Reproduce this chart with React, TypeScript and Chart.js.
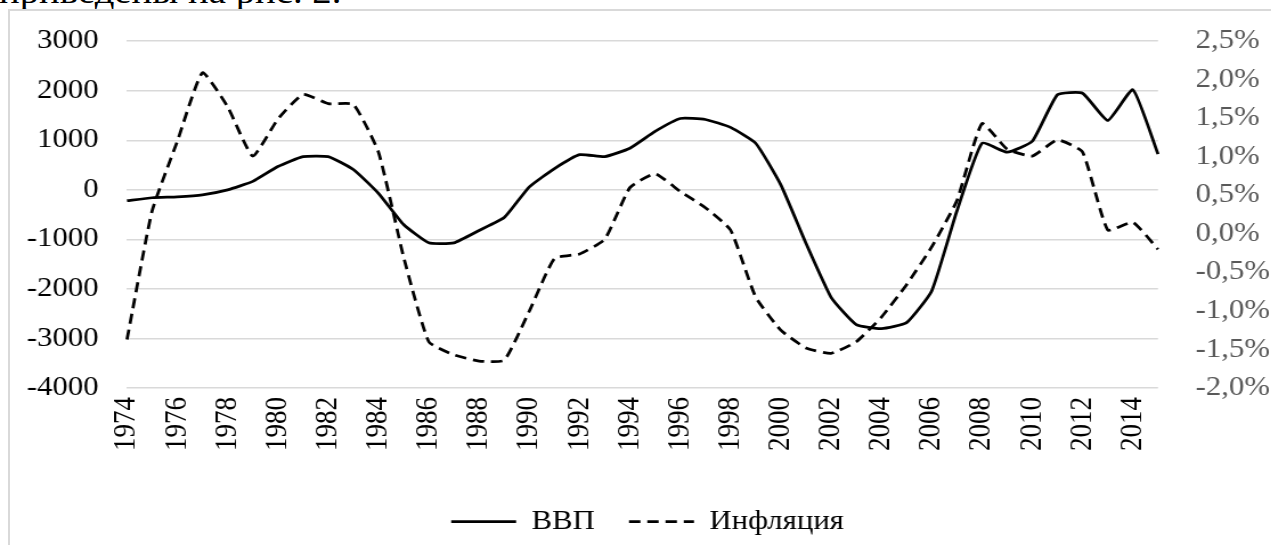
import { useEffect, useRef } from 'react';
import { Chart, registerables } from 'chart.js';

Chart.register(...registerables);

const years = [
  '1974', '1975', '1976', '1977', '1978', '1979', '1980', '1981', '1982', '1983',
  '1984', '1985', '1986', '1987', '1988', '1989', '1990', '1991', '1992', '1993',
  '1994', '1995', '1996', '1997', '1998', '1999', '2000', '2001', '2002', '2003',
  '2004', '2005', '2006', '2007', '2008', '2009', '2010', '2011', '2012', '2013',
  '2014', '2015',
];

const gdp = [
  -220, -160, -140, -100, 0, 170, 470, 670, 670, 410,
  -70, -700, -1070, -1070, -820, -560, 60, 430, 710, 670,
  840, 1180, 1440, 1420, 1260, 940, 100, -1080, -2170, -2720,
  -2800, -2680, -2040, -430, 940, 760, 980, 1920, 1950, 1400,
  2020, 720,
];

const inflation = [
  -1.37, 0.3, 1.2, 2.09, 1.65, 1.01, 1.49, 1.81, 1.69, 1.68,
  1.06, -0.3, -1.4, -1.57, -1.65, -1.64, -1.0, -0.32, -0.26, -0.07,
  0.6, 0.78, 0.55, 0.34, 0.05, -0.82, -1.25, -1.48, -1.55, -1.4,
  -1.08, -0.66, -0.17, 0.43, 1.43, 1.1, 1.01, 1.22, 1.06, 0.05,
  0.15, -0.2,
];

const leftTicks = { min: -4000, max: 3000, step: 1000 };
const rightTicks = { min: -2, max: 2.5, step: 0.5 };

const SX = 1.14;
const W = 1115;
const H = 545;
const FONT = { family: "'Liberation Serif', 'Times New Roman', serif", size: 27 };
const DASH = [10, 6];

export default function App() {
  const ref = useRef<HTMLCanvasElement>(null);

  useEffect(() => {
    if (!ref.current) return;
    const chart = new Chart(ref.current, {
      type: 'line',
      data: {
        labels: years,
        datasets: [
          {
            label: 'ВВП',
            data: gdp,
            yAxisID: 'y',
            borderColor: '#000',
            backgroundColor: '#000',
            borderWidth: 2.75,
            pointRadius: 0,
            tension: 0.15,
          },
          {
            label: 'Инфляция',
            data: inflation,
            yAxisID: 'y1',
            borderColor: '#000',
            backgroundColor: '#000',
            borderWidth: 2.75,
            borderDash: DASH,
            pointRadius: 0,
            tension: 0.15,
          },
        ],
      },
      options: {
        animation: false,
        responsive: true,
        maintainAspectRatio: false,
        layout: { padding: { top: 40, left: 21, right: 0, bottom: 0 } },
        plugins: {
          legend: {
            position: 'bottom',
            labels: {
              usePointStyle: true,
              pointStyle: 'line',
              pointStyleWidth: 57,
              padding: 30,
              color: '#000',
              font: FONT,
              generateLabels: (c: any) => {
                const items = Chart.defaults.plugins.legend.labels.generateLabels(c);
                return items.map((it: any, i: number) => ({
                  ...it,
                  lineWidth: 2.75,
                  strokeStyle: '#000',
                  lineDash: i === 1 ? DASH : [],
                  pointStyle: 'line',
                }));
              },
            },
          },
          tooltip: { enabled: false },
        },
        scales: {
          x: {
            grid: { display: false, drawTicks: false },
            border: { display: false },
            ticks: {
              autoSkip: false,
              maxRotation: 90,
              minRotation: 90,
              padding: 9,
              color: '#000',
              font: FONT,
              callback: (_v: any, i: number) => (i % 2 === 0 ? years[i] : ''),
            },
            afterFit: (s: any) => {
              s.height = 90;
            },
          },
          y: {
            position: 'left',
            min: leftTicks.min,
            max: leftTicks.max,
            ticks: {
              stepSize: leftTicks.step,
              padding: 25,
              color: '#000',
              font: FONT,
              callback: (v: any) => String(v),
            },
            grid: { color: '#d9d9d9', lineWidth: 1.5, drawTicks: false },
            border: { display: false },
            afterFit: (s: any) => {
              s.width = 90.4;
            },
          },
          y1: {
            position: 'right',
            min: rightTicks.min,
            max: rightTicks.max,
            ticks: {
              stepSize: rightTicks.step,
              padding: 23,
              color: '#595959',
              font: FONT,
              callback: (v: any) => Number(v).toFixed(1).replace('.', ',') + '%',
            },
            grid: { display: false, drawTicks: true, tickLength: 10 },
            border: { display: false },
            afterFit: (s: any) => {
              s.width = 99.2;
            },
          },
        },
      },
    });
    return () => chart.destroy();
  }, []);

  return (
    <div style={{ position: 'fixed', left: 0, top: 0, width: 1271, height: 545, overflow: 'hidden', background: '#fff' }}>
      <div
        style={{
          position: 'absolute',
          left: -1,
          top: -25,
          width: 500,
          transform: `scaleX(${SX})`,
          transformOrigin: '0 0',
          fontFamily: "'Liberation Serif', 'Times New Roman', serif",
          fontSize: 34,
          lineHeight: '34px',
          whiteSpace: 'nowrap',
          color: '#000',
        }}
      >
        приведены на рис. 2.
      </div>
      <div
        style={{
          position: 'absolute',
          left: 8,
          top: 9,
          width: 1300,
          height: 600,
          borderLeft: '2px solid #d9d9d9',
          borderTop: '2px solid #d9d9d9',
          background: '#fff',
        }}
      />
      <div
        style={{
          position: 'absolute',
          left: 0,
          top: 0,
          width: W,
          height: H,
          transform: `scaleX(${SX})`,
          transformOrigin: '0 0',
        }}
      >
        <canvas ref={ref} />
      </div>
    </div>
  );
}
